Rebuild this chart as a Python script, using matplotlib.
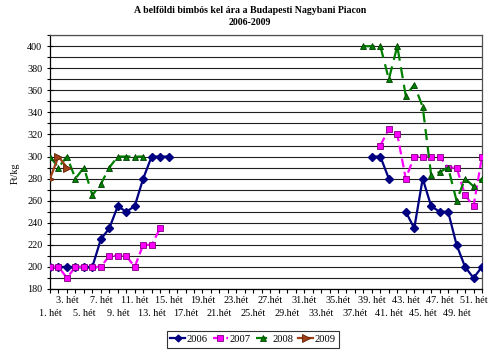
import numpy as np
import matplotlib
matplotlib.use("Agg")
import matplotlib.pyplot as plt
from matplotlib.ticker import MultipleLocator

plt.rcParams['font.family'] = ['Liberation Serif', 'DejaVu Serif']

title = "A belföldi bimbós kel ára a Budapesti Nagybani Piacon\n2006-2009"
ylabel = "Ft/kg"

weeks = list(range(1, 53))

# series: weeks and values (nan where no data)
w2006 = [1, 2, 3, 4, 5, 6, 7, 8, 9, 10, 11, 12, 13, 14, 15,
         39, 40, 41, 43, 44, 45, 46, 47, 48, 49, 50, 51, 52]
v2006 = [200, 200, 200, 200, 200, 200, 225, 235, 255, 250, 255, 280, 300, 300, 300,
         300, 300, 280, 250, 235, 280, 255, 250, 250, 220, 200, 190, 200]

w2007 = [1, 2, 3, 4, 5, 6, 7, 8, 9, 10, 11, 12, 13, 14,
         40, 41, 42, 43, 44, 45, 46, 47, 48, 49, 50, 51, 52]
v2007 = [200, 200, 190, 200, 200, 200, 200, 210, 210, 210, 200, 220, 220, 235,
         310, 325, 320, 280, 300, 300, 300, 300, 290, 290, 265, 255, 300]

w2008 = [1, 2, 3, 4, 5, 6, 7, 8, 9, 10, 11, 12,
         38, 39, 40, 41, 42, 43, 44, 45, 46, 47, 48, 49, 50, 51, 52]
v2008 = [300, 290, 300, 280, 290, 265, 275, 290, 300, 300, 300, 300,
         400, 400, 400, 370, 400, 355, 365, 345, 283, 286, 290, 260, 280, 273, 280]

w2009 = [1, 2, 3]
v2009 = [280, 300, 290]

upper_weeks = [3, 7, 11, 15, 19, 23, 27, 31, 35, 39, 43, 47, 51]
upper_labels = ["3. hét", "7. hét", "11. hét", "15. hét", "19.hét", "23.hét", "27.hét",
                "31.hét", "35.hét", "39. hét", "43. hét", "47. hét", "51. hét"]
lower_weeks = [1, 5, 9, 13, 17, 21, 25, 29, 33, 37, 41, 45, 49]
lower_labels = ["1. hét", "5. hét", "9. hét", "13. hét", "17.hét", "21.hét", "25.hét",
                "29.hét", "33.hét", "37.hét", "41. hét", "45. hét", "49. hét"]


def full(ws, vs):
    arr = np.full(len(weeks), np.nan)
    for w, v in zip(ws, vs):
        arr[w - 1] = v
    return arr


fig = plt.figure(figsize=(5, 3.55), dpi=100)
ax = fig.add_axes([0.1, 0.186, 0.864, 0.715])

ax.plot(weeks, full(w2006, v2006), color='#000080', lw=1.6, marker='D', ms=3.8,
        mfc='#000080', mec='#000080', label='2006', zorder=3)
ax.plot(weeks, full(w2007, v2007), color='#FF00FF', lw=1.6, ls=(0, (4, 2)), marker='s', ms=5,
        mfc='#FF00FF', mec='#800080', mew=0.6, label='2007', zorder=4)
ax.plot(weeks, full(w2008, v2008), color='#008000', lw=1.6, ls=(0, (5, 3)), marker='^', ms=5,
        mfc='#008000', mec='#004000', mew=0.6, label='2008', zorder=5)
ax.plot(weeks, full(w2009, v2009), color='#A0401A', lw=1.6, marker='>', ms=6,
        mfc='#A0401A', mec='#602000', mew=0.6, label='2009', zorder=6)

ax.set_xlim(1, 52)
ax.set_ylim(180, 410)
ax.yaxis.set_major_locator(MultipleLocator(20))
ax.yaxis.set_minor_locator(MultipleLocator(10))
ax.set_yticks(range(180, 401, 20))
ax.grid(True, which='both', axis='y', color='#202020', lw=0.8, zorder=0)
ax.set_axisbelow(True)

ax.set_xticks(upper_weeks)
ax.set_xticklabels(upper_labels, fontsize=7.3)
ax.set_xticks(weeks, minor=True)
ax.tick_params(axis='x', which='both', direction='out', length=3, width=0.8, pad=2)
ax.tick_params(axis='y', which='major', direction='inout', length=5, width=0.8, labelsize=7.3, pad=3)
ax.tick_params(axis='y', which='minor', direction='out', length=2.5, width=0.8)

sec = ax.secondary_xaxis('bottom')
sec.set_xticks(lower_weeks)
sec.set_xticklabels(lower_labels, fontsize=7.3)
sec.tick_params(axis='x', length=0, pad=14.5)
sec.spines['bottom'].set_visible(False)

for s in ['left', 'bottom']:
    ax.spines[s].set_color('black')
    ax.spines[s].set_linewidth(0.9)
for s in ['top', 'right']:
    ax.spines[s].set_color('#505050')
    ax.spines[s].set_linewidth(0.9)

fig.text(0.5, 0.953, title, ha='center', va='center', fontsize=7.1, fontweight='bold',
         linespacing=1.45)
fig.text(0.03, 1 - 173 / 355, ylabel, rotation=90, ha='center', va='center', fontsize=7.3)

leg = ax.legend(loc='center', bbox_to_anchor=(253 / 500, 1 - 339.5 / 355),
                bbox_transform=fig.transFigure, ncol=4, fontsize=7.6, frameon=True,
                fancybox=False, edgecolor='black', handlelength=1.4, handletextpad=0.15,
                columnspacing=0.5, borderpad=0.35, markerscale=0.9)
leg.get_frame().set_linewidth(0.8)

fig.savefig('out.png', dpi=100, facecolor='white')
